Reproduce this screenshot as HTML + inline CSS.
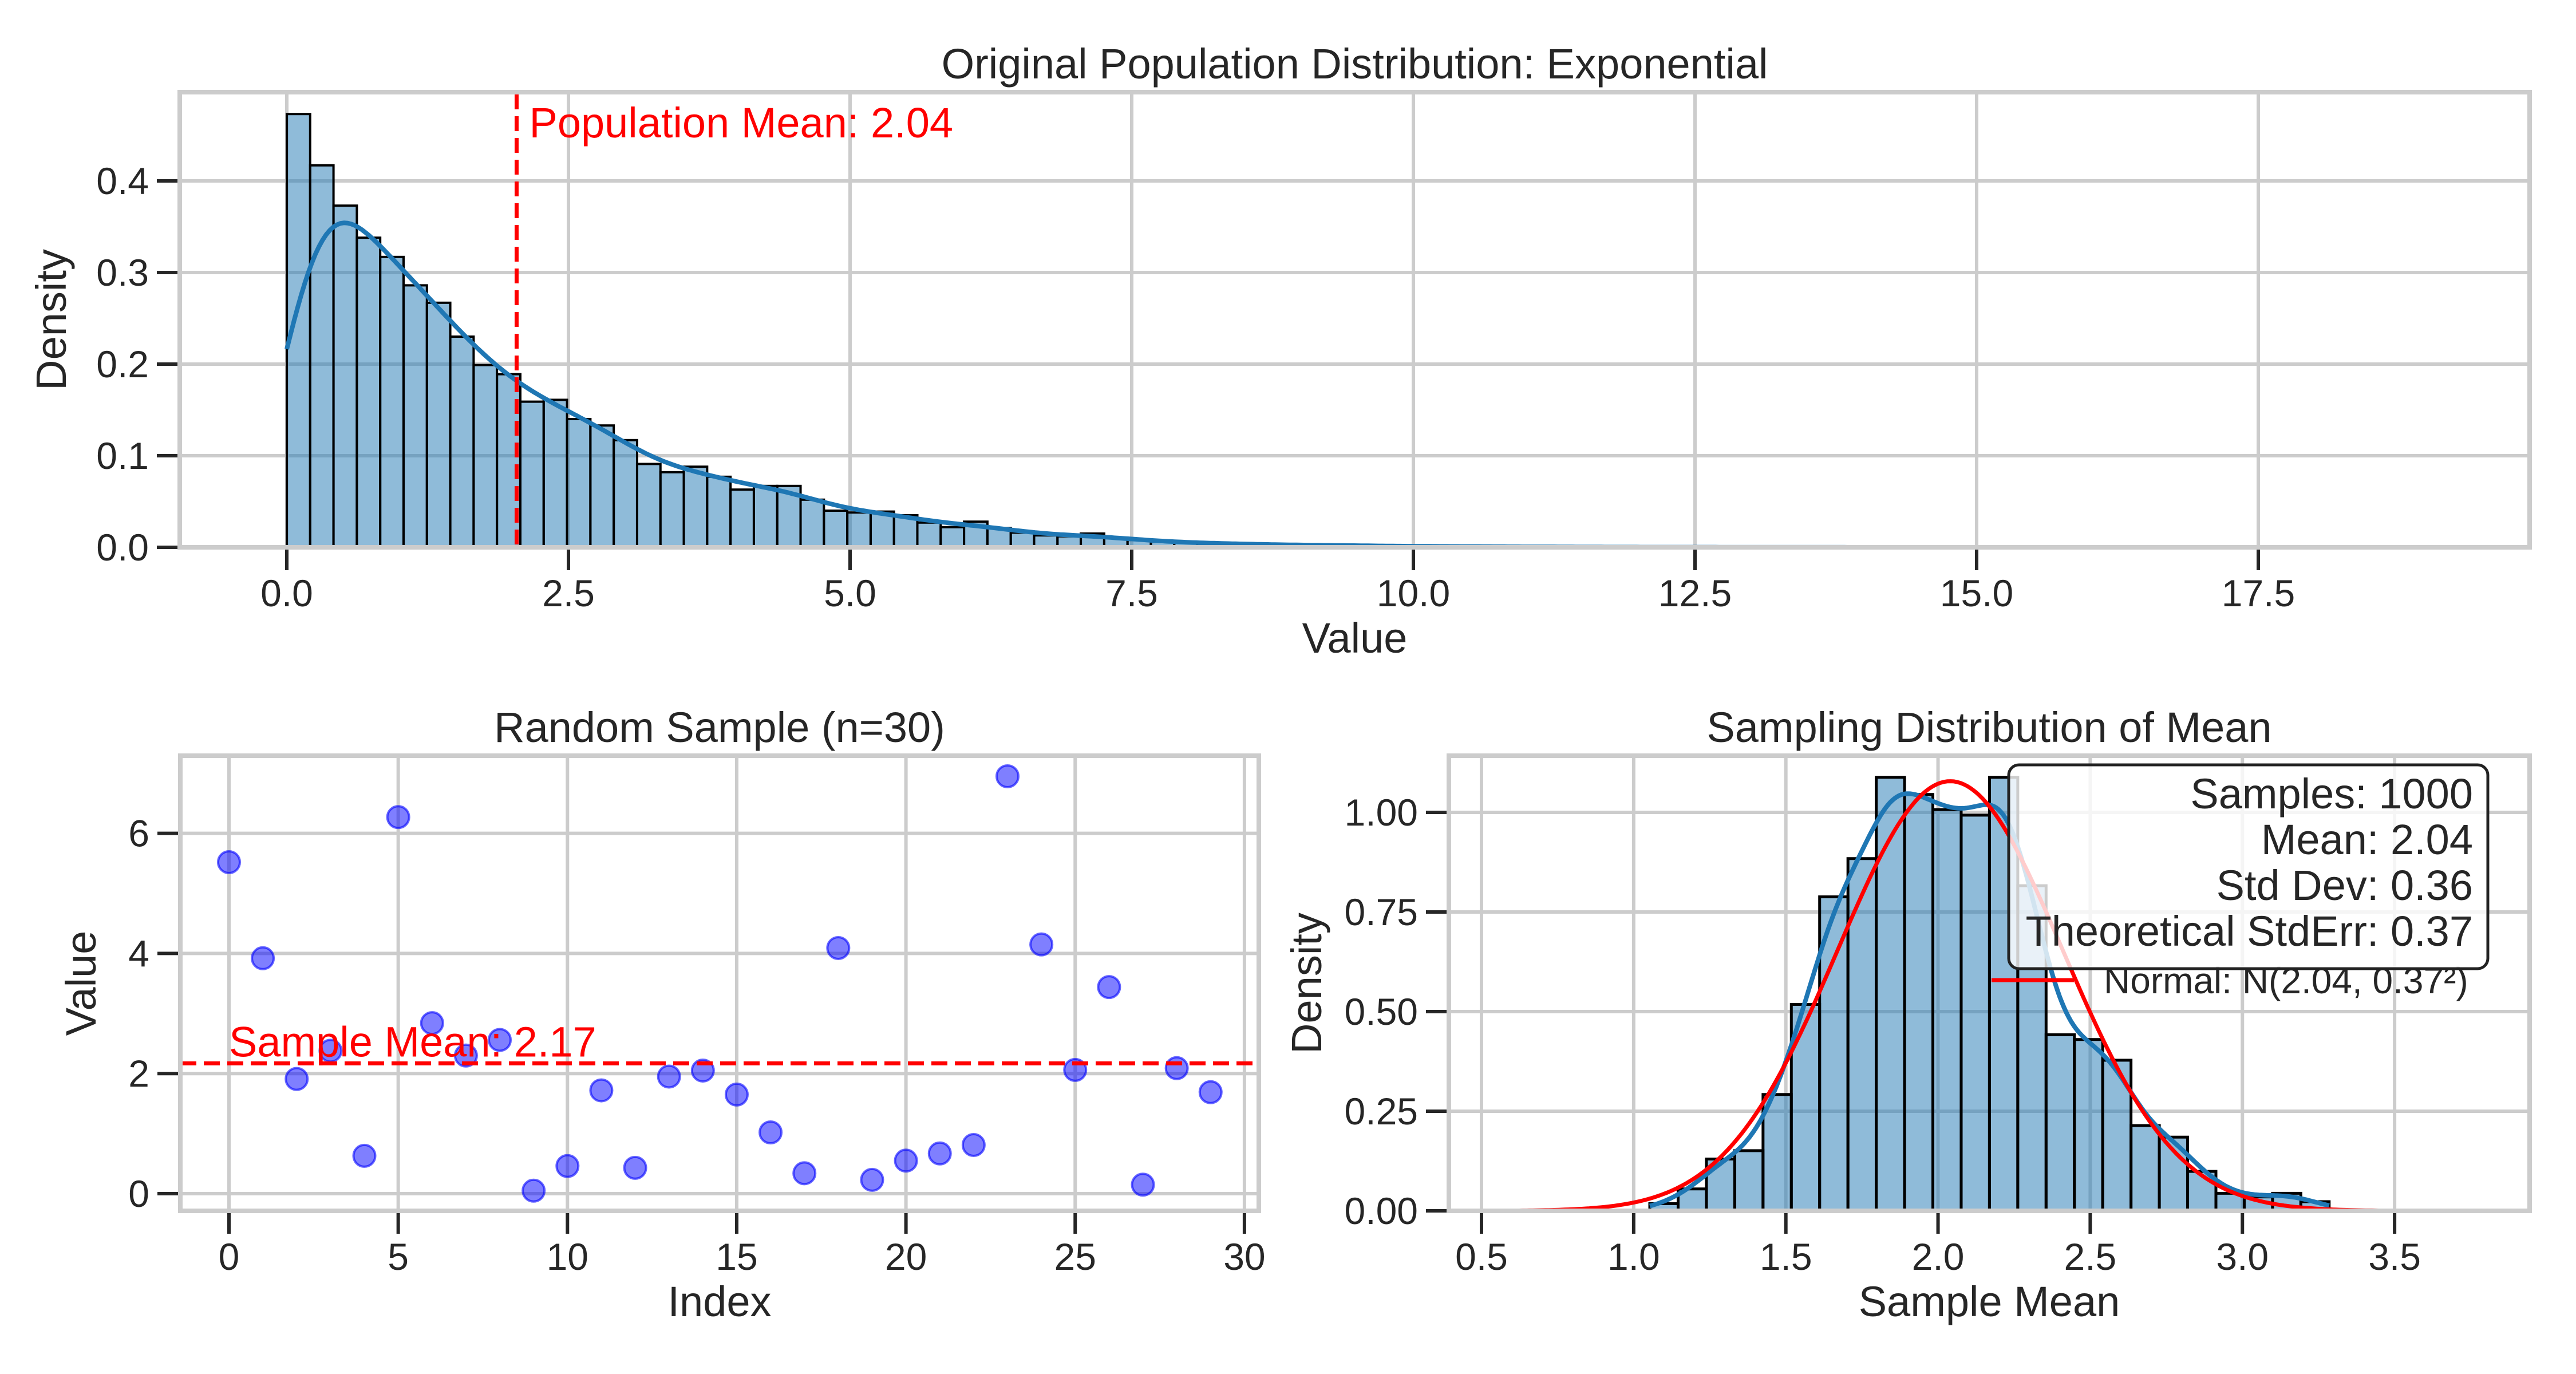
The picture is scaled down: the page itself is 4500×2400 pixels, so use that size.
<!DOCTYPE html>
<html><head><meta charset="utf-8"><style>
html,body{margin:0;padding:0;background:#fff;}
svg{display:block;font-family:"Liberation Sans",Arial,sans-serif;}
</style></head><body>
<svg id="fig" xmlns="http://www.w3.org/2000/svg" width="4500" height="2400" viewBox="0 0 4500 2400">
<rect width="4500" height="2400" fill="#fff"/>
</svg>
<script>
// ---------- data ----------
const popBinWidth = 0.2073;
const popDensity = [0.473,0.417,0.373,0.338,0.317,0.286,0.267,0.230,0.199,0.189,
0.159,0.161,0.140,0.133,0.117,0.091,0.082,0.088,0.077,0.063,
0.067,0.067,0.052,0.040,0.038,0.039,0.035,0.027,0.022,0.028,
0.021,0.016,0.013,0.012,0.015,0.010,0.008,0.006,0.005,0.0045,
0.004,0.003,0.003,0.002,0.0025,0.002,0.0015,0.0012,0.001,0.001,
0.0008,0.0005,0.0007,0.0004,0.0004,0.0003,0.0002,0.0003,0.0002,0.0001,
0.0002,0,0,0.0002,0,0,0.0001,0,0,0,
0,0.0001,0,0,0,0,0,0,0,0,
0,0,0,0,0,0,0,0,0,0,0,0.0001];
const popMean = 2.04;
const popXTicks = [0,2.5,5,7.5,10,12.5,15,17.5];
const popXTickLabels = ["0.0","2.5","5.0","7.5","10.0","12.5","15.0","17.5"];
const popYTicks = [0,0.1,0.2,0.3,0.4];
const popYTickLabels = ["0.0","0.1","0.2","0.3","0.4"];

const sampleValues = [5.52,3.92,1.91,2.38,0.63,6.27,2.84,2.30,2.56,0.05,
0.46,1.72,0.43,1.95,2.05,1.65,1.02,0.34,4.09,0.23,
0.55,0.67,0.81,6.95,4.15,2.06,3.44,0.15,2.09,1.69];
const sampleMean = 2.17;
const sampXTicks = [0,5,10,15,20,25,30];
const sampYTicks = [0,2,4,6];

const meansBinStart = 1.053;
const meansBinWidth = 0.093;
const meansDensity = [0.018,0.055,0.130,0.151,0.292,0.518,0.788,0.884,1.088,1.045,
1.007,0.993,1.088,0.816,0.442,0.430,0.378,0.214,0.185,0.099,
0.044,0.035,0.044,0.023];
const normalMu = 2.04;
const normalSigma = 0.37;
const normalRange = [0.56,3.78];
const meansXTicks = [0.5,1.0,1.5,2.0,2.5,3.0,3.5];
const meansXTickLabels = ["0.5","1.0","1.5","2.0","2.5","3.0","3.5"];
const meansYTicks = [0,0.25,0.5,0.75,1.0];
const meansYTickLabels = ["0.00","0.25","0.50","0.75","1.00"];
const statsLines = ["Samples: 1000","Mean: 2.04","Std Dev: 0.36","Theoretical StdErr: 0.37"];

// ---------- helpers ----------
const NS = "http://www.w3.org/2000/svg";
const svg = document.getElementById('fig');
function mk(tag, attrs, parent){
  const e = document.createElementNS(NS, tag);
  for (const k in attrs) e.setAttribute(k, attrs[k]);
  (parent||svg).appendChild(e);
  return e;
}
function txt(str, attrs, parent){
  const e = mk('text', attrs, parent);
  e.textContent = str;
  return e;
}
function kde(centers, weights, bw, x){
  let s = 0;
  for (let i=0;i<centers.length;i++){
    const z=(x-centers[i])/bw;
    s += weights[i]*Math.exp(-0.5*z*z);
  }
  return s/(bw*Math.sqrt(2*Math.PI));
}
const GRID="#cccccc", TICK="#262626";

// ---------- axes definitions ----------
const T = {l:314,r:4419,t:161,b:956};
const xT = v => 501 + v*196.8;
const yT = v => 956 - v*1600;
const L = {l:315,r:2199,t:1320,b:2115};
const xL = v => 400 + v*59.13;
const yL = v => 2085 - v*104.9;
const R = {l:2531,r:4419,t:1320,b:2115};
const xR = v => 2588 + (v-0.5)*531.7;
const yR = v => 2115 - v*696;

function axesFrame(box, name){
  const g = mk('g', {});
  
  
  return g;
}
function gridAndTicks(g, box, xticks, xlabels, xs, yticks, ylabels, ys, pfx){
  xticks.forEach((v,i)=>{
    const X = xs(v);
    const gl = mk('line',{x1:X,x2:X,y1:box.t,y2:box.b,stroke:GRID,'stroke-width':6},g);
    
    
    const tk = mk('line',{x1:X,x2:X,y1:box.b+4,y2:box.b+40,stroke:TICK,'stroke-width':6},g);
    
    
    const tl = txt(xlabels[i],{x:X,y:box.b+103,'text-anchor':'middle','font-size':66,fill:TICK},g);
    
    
  });
  yticks.forEach((v,i)=>{
    const Y = ys(v);
    const gl = mk('line',{x1:box.l,x2:box.r,y1:Y,y2:Y,stroke:GRID,'stroke-width':6},g);
    
    
    const tk = mk('line',{x1:box.l-4,x2:box.l-40,y1:Y,y2:Y,stroke:TICK,'stroke-width':6},g);
    
    
    const tl = txt(ylabels[i],{x:box.l-54,y:Y+23,'text-anchor':'end','font-size':66,fill:TICK},g);
    
    
  });
}
function frame(g, box, pfx){
  const f = mk('rect',{x:box.l,y:box.t,width:box.r-box.l,height:box.b-box.t,fill:'none',stroke:GRID,'stroke-width':8},g);
  
  
}
function labels(g, box, title, xl, yl, ylx, pfx){
  const cx=(box.l+box.r)/2;
  const t = txt(title,{x:cx,y:box.t-24,'text-anchor':'middle','font-size':74,fill:TICK},g);
  
  
  const x = txt(xl,{x:cx,y:box.b+184,'text-anchor':'middle','font-size':74,fill:TICK},g);
  
  
  const cy=(box.t+box.b)/2;
  const y = txt(yl,{x:ylx,y:cy,'text-anchor':'middle','font-size':74,fill:TICK,transform:`rotate(-90 ${ylx} ${cy})`},g);
  
  
}

// ---------- top: population ----------
const gT = axesFrame(T,'population-panel');
gridAndTicks(gT,T,popXTicks,popXTickLabels,xT,popYTicks,popYTickLabels,yT,'population');
popDensity.forEach((h,i)=>{
  const x0=xT(i*popBinWidth), x1=xT((i+1)*popBinWidth);
  const b = mk('rect',{x:x0,y:yT(h),width:x1-x0,height:yT(0)-yT(h),fill:'#1f77b4','fill-opacity':0.5,stroke:'#000','stroke-width':4},gT);
  
  
});
{
  const c = popDensity.map((h,i)=>(i+0.5)*popBinWidth);
  const w = popDensity.map(h=>h*popBinWidth);
  const xmax = popDensity.length*popBinWidth;
  let d='';
  for(let k=0;k<=600;k++){
    const x = xmax*k/600;
    d += (k?'L':'M')+xT(x).toFixed(1)+','+yT(kde(c,w,0.33,x)).toFixed(1);
  }
  const p = mk('path',{d:d,fill:'none',stroke:'#1f77b4','stroke-width':8},gT);
  
  
}
{
  const l = mk('line',{x1:xT(popMean),x2:xT(popMean),y1:T.t+4,y2:T.b,stroke:'#ff0000','stroke-width':7,'stroke-dasharray':'26,12'},gT);
  
  
  const t = txt('Population Mean: '+popMean.toFixed(2),{x:xT(popMean)+22,y:240,'font-size':74,fill:'#ff0000'},gT);
  
  
}
frame(gT,T,'population');
labels(gT,T,'Original Population Distribution: Exponential','Value','Density',115,'population');

// ---------- bottom left: sample ----------
const gL = axesFrame(L,'sample-panel');
gridAndTicks(gL,L,sampXTicks,sampXTicks.map(String),xL,sampYTicks,sampYTicks.map(String),yL,'sample');
sampleValues.forEach((v,i)=>{
  const c = mk('circle',{cx:xL(i),cy:yL(v),r:19,fill:'#0000ff','fill-opacity':0.5,stroke:'#0000ff','stroke-opacity':0.6,'stroke-width':4},gL);
  
  
});
{
  const l = mk('line',{x1:L.l,x2:L.r,y1:yL(sampleMean),y2:yL(sampleMean),stroke:'#ff0000','stroke-width':7,'stroke-dasharray':'28,13'},gL);
  
  
  const t = txt('Sample Mean: '+sampleMean.toFixed(2),{x:xL(0),y:yL(sampleMean)-12,'font-size':74,fill:'#ff0000'},gL);
  
  
}
frame(gL,L,'sample');
labels(gL,L,'Random Sample (n=30)','Index','Value',167,'sample');

// ---------- bottom right: sampling distribution ----------
const gR = axesFrame(R,'sampling-panel');
gridAndTicks(gR,R,meansXTicks,meansXTickLabels,xR,meansYTicks,meansYTickLabels,yR,'sampling');
meansDensity.forEach((h,i)=>{
  const x0=xR(meansBinStart+i*meansBinWidth), x1=xR(meansBinStart+(i+1)*meansBinWidth);
  const b = mk('rect',{x:x0,y:yR(h),width:x1-x0,height:yR(0)-yR(h),fill:'#1f77b4','fill-opacity':0.5,stroke:'#000','stroke-width':5},gR);
  
  
});
{
  const c = meansDensity.map((h,i)=>meansBinStart+(i+0.5)*meansBinWidth);
  const w = meansDensity.map(h=>h*meansBinWidth);
  const x0 = meansBinStart, x1 = meansBinStart+meansDensity.length*meansBinWidth;
  let d='';
  for(let k=0;k<=300;k++){
    const x = x0+(x1-x0)*k/300;
    d += (k?'L':'M')+xR(x).toFixed(1)+','+yR(kde(c,w,0.072,x)).toFixed(1);
  }
  const p = mk('path',{d:d,fill:'none',stroke:'#1f77b4','stroke-width':8},gR);
  
  
  let d2='';
  for(let k=0;k<=300;k++){
    const x = normalRange[0]+(normalRange[1]-normalRange[0])*k/300;
    const z=(x-normalMu)/normalSigma;
    const y=Math.exp(-0.5*z*z)/(normalSigma*Math.sqrt(2*Math.PI));
    d2 += (k?'L':'M')+xR(x).toFixed(1)+','+yR(y).toFixed(1);
  }
  const n = mk('path',{d:d2,fill:'none',stroke:'#ff0000','stroke-width':7},gR);
  
  
}
{
  const lg = mk('g',{},gR);
  
  
  const ll = mk('line',{x1:3479,x2:3623,y1:1712,y2:1712,stroke:'#ff0000','stroke-width':7},lg);
  
  
  const lt = txt('Normal: N(2.04, 0.37²)',{x:3675,y:1735,'font-size':64,fill:TICK},lg);
  
  
}
{
  const sb = mk('g',{},gR);
  
  
  const r = mk('rect',{x:3509,y:1336,width:837,height:356,rx:18,fill:'#fff','fill-opacity':0.8,stroke:'#222','stroke-width':5},sb);
  
  
  statsLines.forEach((s,i)=>{
    const t = txt(s,{x:4320,y:1412+i*80,'text-anchor':'end','font-size':74,fill:TICK},sb);
    
    
  });
}
frame(gR,R,'sampling');
labels(gR,R,'Sampling Distribution of Mean','Sample Mean','Density',2308,'sampling');
</script>
</body></html>
